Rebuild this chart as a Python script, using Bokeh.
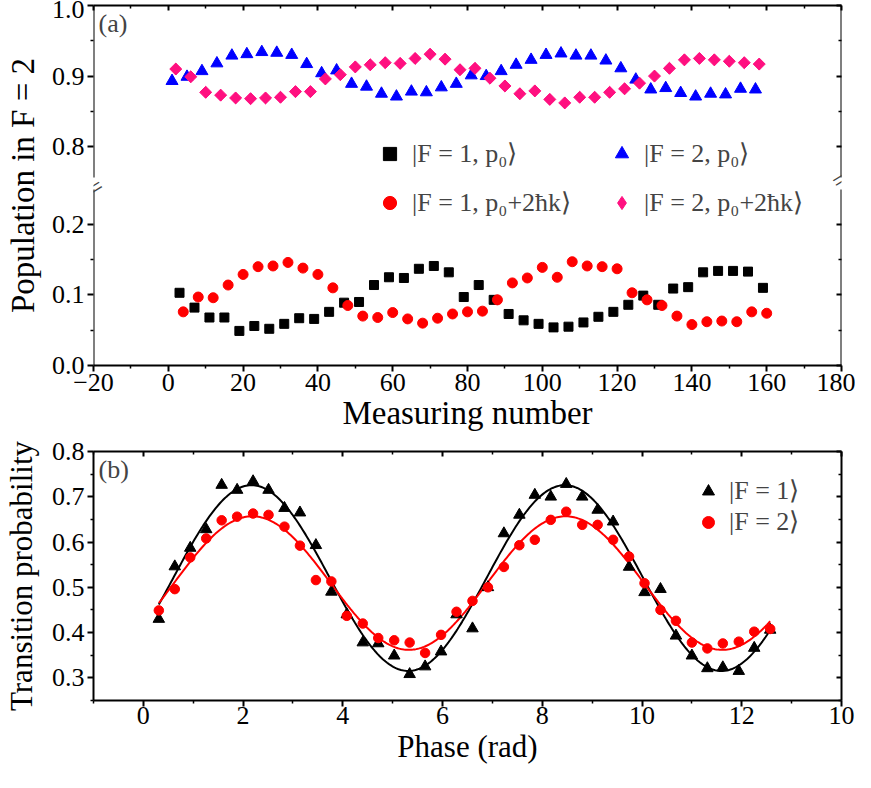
import numpy as np
from bokeh.plotting import figure
from bokeh.layouts import column
from bokeh.models import LinearAxis, FixedTicker, Legend, LegendItem, Label, Range1d
from bokeh.embed import file_html
from bokeh.resources import INLINE

FONT = "Liberation Serif"

# ---------------- Panel (a) data ----------------
n_F2_p0 = [1, 5, 9, 13, 17, 21, 25, 29, 33, 37, 41, 45, 49, 53, 57, 61, 65, 69, 73, 77,
           81, 85, 89, 93, 97, 101, 105, 109, 113, 117, 121, 125, 129, 133, 137, 141, 145, 149, 153, 157]
pop_F2_p0 = [0.893, 0.899, 0.907, 0.918, 0.929, 0.931, 0.934, 0.933, 0.930, 0.917,
             0.904, 0.908, 0.889, 0.885, 0.875, 0.871, 0.878, 0.877, 0.884, 0.889,
             0.901, 0.900, 0.907, 0.916, 0.923, 0.930, 0.932, 0.929, 0.929, 0.922,
             0.911, 0.895, 0.881, 0.883, 0.876, 0.871, 0.875, 0.874, 0.882, 0.881]

n_F2_p2hk = [2, 6, 10, 14, 18, 22, 26, 30, 34, 38, 42, 46, 50, 54, 58, 62, 66, 70, 74, 78,
             82, 86, 90, 94, 98, 102, 106, 110, 114, 118, 122, 126, 130, 134, 138, 142, 146, 150, 154, 158]
pop_F2_p2hk = [0.910, 0.899, 0.877, 0.873, 0.869, 0.868, 0.869, 0.870, 0.878, 0.878,
               0.896, 0.902, 0.913, 0.916, 0.919, 0.918, 0.925, 0.931, 0.924, 0.909,
               0.911, 0.897, 0.886, 0.875, 0.879, 0.867, 0.862, 0.870, 0.870, 0.877,
               0.882, 0.890, 0.900, 0.911, 0.923, 0.925, 0.923, 0.921, 0.919, 0.917]

n_F1_p0 = [3, 7, 11, 15, 19, 23, 27, 31, 35, 39, 43, 47, 51, 55, 59, 63, 67, 71, 75, 79,
           83, 87, 91, 95, 99, 103, 107, 111, 115, 119, 123, 127, 131, 135, 139, 143, 147, 151, 155, 159]
pop_F1_p0 = [0.103, 0.082, 0.068, 0.068, 0.049, 0.056, 0.052, 0.059, 0.067, 0.066,
             0.076, 0.089, 0.090, 0.114, 0.125, 0.124, 0.137, 0.141, 0.132, 0.097,
             0.114, 0.093, 0.073, 0.064, 0.059, 0.054, 0.055, 0.061, 0.069, 0.076,
             0.086, 0.099, 0.086, 0.109, 0.111, 0.132, 0.134, 0.134, 0.133, 0.110]

n_F1_p2hk = [4, 8, 12, 16, 20, 24, 28, 32, 36, 40, 44, 48, 52, 56, 60, 64, 68, 72, 76, 80,
             84, 88, 92, 96, 100, 104, 108, 112, 116, 120, 124, 128, 132, 136, 140, 144, 148, 152, 156, 160]
pop_F1_p2hk = [0.076, 0.097, 0.096, 0.114, 0.129, 0.140, 0.141, 0.146, 0.138, 0.129,
               0.110, 0.085, 0.070, 0.068, 0.075, 0.066, 0.060, 0.067, 0.073, 0.076,
               0.077, 0.093, 0.117, 0.124, 0.139, 0.125, 0.147, 0.141, 0.140, 0.137,
               0.103, 0.093, 0.085, 0.070, 0.058, 0.062, 0.063, 0.062, 0.076, 0.074]

a_xticks = [-20, 0, 20, 40, 60, 80, 100, 120, 140, 160, 180]
a_xminor = [-10, 10, 30, 50, 70, 90, 110, 130, 150, 170]
a_lower_ticks = [0.0, 0.1, 0.2]
a_lower_labels = ["0.0", "0.1", "0.2"]
a_upper_ticks = [0.8, 0.9, 1.0]
a_upper_labels = ["0.8", "0.9", "1.0"]

# ---------------- Panel (b) data ----------------
phase = [0.31, 0.63, 0.94, 1.26, 1.57, 1.88, 2.20, 2.51, 2.83, 3.14,
         3.46, 3.77, 4.08, 4.40, 4.71, 5.03, 5.34, 5.65, 5.97, 6.28,
         6.60, 6.91, 7.23, 7.54, 7.85, 8.17, 8.48, 8.80, 9.11, 9.42,
         9.74, 10.05, 10.37, 10.68, 11.00, 11.31, 11.62, 11.94, 12.25, 12.57]
prob_F1 = [0.430, 0.546, 0.587, 0.628, 0.726, 0.715, 0.734, 0.715, 0.675, 0.665,
           0.593, 0.490, 0.440, 0.378, 0.376, 0.349, 0.308, 0.325, 0.358, 0.440,
           0.409, 0.500, 0.619, 0.660, 0.704, 0.700, 0.728, 0.700, 0.671, 0.645,
           0.545, 0.489, 0.496, 0.393, 0.349, 0.321, 0.323, 0.315, 0.366, 0.406]
prob_F2 = [0.449, 0.496, 0.566, 0.608, 0.648, 0.656, 0.663, 0.660, 0.634, 0.592,
           0.516, 0.513, 0.437, 0.420, 0.388, 0.383, 0.378, 0.355, 0.395, 0.446,
           0.470, 0.500, 0.545, 0.593, 0.605, 0.649, 0.667, 0.638, 0.638, 0.605,
           0.568, 0.509, 0.450, 0.426, 0.378, 0.365, 0.376, 0.380, 0.402, 0.408]
b_xticks = [0, 2, 4, 6, 8, 10, 12, 14]
b_xlabels = ["0", "2", "4", "6", "8", "10", "12", "10"]
b_yticks = [0.3, 0.4, 0.5, 0.6, 0.7, 0.8]

BLACK = "#000000"
RED = "#FF0000"
BLUE = "#0000FF"
PINK = "#FF1080"

# broken axis: the upper block (0.75-1.0) is drawn shifted down by SHIFT
SHIFT = 0.49
TOP = 1.0 - SHIFT
BRK_LO, BRK_HI = 0.249, 0.266
BRK_Y = 0.5 * (BRK_LO + BRK_HI)
TICK_SIZE = "26px"


def style_axis(ax, title_size="33px"):
    ax.axis_line_width = 2
    ax.axis_line_color = "black"
    ax.major_tick_line_width = 2
    ax.minor_tick_line_width = 1.5
    ax.major_tick_line_color = "black"
    ax.minor_tick_line_color = "black"
    ax.major_tick_out = 6
    ax.major_tick_in = 0
    ax.minor_tick_out = 3
    ax.minor_tick_in = 0
    ax.major_label_text_font = FONT
    ax.major_label_text_font_size = TICK_SIZE
    ax.major_label_text_color = "black"
    ax.major_label_standoff = 3
    ax.axis_label_text_font = FONT
    ax.axis_label_text_font_size = title_size
    ax.axis_label_text_font_style = "normal"
    ax.axis_label_text_color = "black"


def mirror_axis(ticker, line=True):
    ax = LinearAxis(ticker=ticker)
    ax.axis_line_width = 2
    ax.axis_line_color = "black" if line else None
    ax.major_tick_line_width = 2
    ax.minor_tick_line_width = 1.5
    ax.major_tick_out = 0
    ax.major_tick_in = 5
    ax.minor_tick_out = 0
    ax.minor_tick_in = 3
    ax.major_label_text_font_size = "1px"
    ax.major_label_text_color = None
    ax.major_label_standoff = 0
    return ax


def line_axis(loc, lo, hi):
    ax = LinearAxis(ticker=FixedTicker(ticks=[]), fixed_location=loc, bounds=(lo, hi))
    ax.axis_line_width = 2
    ax.axis_line_color = "black"
    ax.major_tick_line_color = None
    ax.minor_tick_line_color = None
    ax.major_label_text_font_size = "1px"
    ax.major_label_text_color = None
    return ax


def break_axis(loc):
    ax = LinearAxis(ticker=FixedTicker(ticks=[BRK_Y]), fixed_location=loc)
    ax.major_label_overrides = {BRK_Y: "="}
    ax.major_label_orientation = 0.55
    ax.major_label_text_font = FONT
    ax.major_label_text_font_size = "26px"
    ax.major_label_standoff = -8
    ax.axis_line_color = None
    ax.major_tick_line_color = None
    ax.minor_tick_line_color = None
    ax.major_tick_out = 0
    ax.major_tick_in = 0
    return ax


# ================= Panel (a) =================
pa = figure(width=855, height=440, x_range=Range1d(-20, 180), y_range=Range1d(0, TOP),
            output_backend="svg", toolbar_location=None,
            min_border_left=89, min_border_right=14, min_border_top=5, min_border_bottom=75)
pa.outline_line_color = None
pa.grid.visible = False
pa.background_fill_color = "white"
pa.border_fill_color = "white"

xt_a = FixedTicker(ticks=a_xticks, minor_ticks=a_xminor)
up_t = [v - SHIFT for v in a_upper_ticks]
yt_a = FixedTicker(ticks=a_lower_ticks + up_t,
                   minor_ticks=[0.05, 0.15] + [v - SHIFT for v in (0.85, 0.95)])
overrides_a = {}
for t, l in zip(a_lower_ticks, a_lower_labels):
    overrides_a[t] = l
for t, l in zip(up_t, a_upper_labels):
    overrides_a[t] = l

xa = pa.xaxis[0]
xa.ticker = xt_a
style_axis(xa, title_size="33px")
xa.major_label_standoff = 2
xa.axis_label = "Measuring number"
xa.axis_label_standoff = 1

ya = pa.yaxis[0]
ya.ticker = yt_a
ya.major_label_overrides = overrides_a
style_axis(ya, title_size="33px")
ya.axis_line_color = None
ya.axis_label = "Population in F = 2"
ya.axis_label_standoff = 8

pa.add_layout(mirror_axis(xt_a), "above")
pa.add_layout(mirror_axis(yt_a, line=False), "right")
# axis lines with a gap at the break, plus the break marks
pa.add_layout(line_axis(-20, 0, BRK_LO), "left")
pa.add_layout(line_axis(-20, BRK_HI, TOP), "left")
pa.add_layout(line_axis(180, 0, BRK_LO), "right")
pa.add_layout(line_axis(180, BRK_HI, TOP), "right")
pa.add_layout(break_axis(-20), "left")
pa.add_layout(break_axis(180), "right")

y_F2_p0 = np.array(pop_F2_p0) - SHIFT
y_F2_p2hk = np.array(pop_F2_p2hk) - SHIFT
# diamond proxy (hidden beneath the rotated squares) used for the legend glyph
r_dia_leg = pa.scatter(n_F2_p2hk, y_F2_p2hk, marker="diamond", size=11, color=PINK)
r_sq = pa.scatter(n_F1_p0, pop_F1_p0, marker="square", size=9, color=BLACK)
r_tri = pa.scatter(n_F2_p0, y_F2_p0, marker="triangle", size=12, color=BLUE)
r_cir = pa.scatter(n_F1_p2hk, pop_F1_p2hk, marker="circle", size=10, color=RED)
r_dia = pa.scatter(n_F2_p2hk, y_F2_p2hk, marker="square", angle=np.pi / 4,
                   size=8.5, color=PINK)


def legend_a(items, loc):
    lg = Legend(items=items, orientation="horizontal", location=loc,
                label_text_font=FONT, label_text_font_size="26px",
                glyph_width=33, glyph_height=33, label_standoff=6,
                spacing=8, label_width=185, padding=0, margin=0,
                border_line_color=None, background_fill_alpha=0)
    return lg


pa.add_layout(legend_a([LegendItem(label="|F = 1, p₀⟩", renderers=[r_sq]),
                        LegendItem(label="|F = 2, p₀⟩", renderers=[r_tri])], (280, 195)))
pa.add_layout(legend_a([LegendItem(label="|F = 1, p₀+2ħk⟩", renderers=[r_cir]),
                        LegendItem(label="|F = 2, p₀+2ħk⟩", renderers=[r_dia_leg])], (280, 146)))

pa.add_layout(Label(x=-20, y=TOP, x_offset=5, y_offset=-3, text="(a)",
                    text_font=FONT, text_font_size="26px", text_baseline="top", text_align="left"))

# ================= Panel (b) =================
pb = figure(width=855, height=332, x_range=Range1d(-1, 14), y_range=Range1d(0.25, 0.8),
            output_backend="svg", toolbar_location=None,
            min_border_left=89, min_border_right=14, min_border_top=11, min_border_bottom=72)
pb.outline_line_color = None
pb.grid.visible = False

xt_b = FixedTicker(ticks=b_xticks, minor_ticks=[-1, 1, 3, 5, 7, 9, 11, 13])
yt_b = FixedTicker(ticks=b_yticks, minor_ticks=[0.25, 0.35, 0.45, 0.55, 0.65, 0.75])

xb_ax = pb.xaxis[0]
xb_ax.ticker = xt_b
xb_ax.major_label_overrides = {t: l for t, l in zip(b_xticks, b_xlabels)}
style_axis(xb_ax, title_size="31px")
xb_ax.major_label_standoff = 0
xb_ax.axis_label = "Phase (rad)"
xb_ax.axis_label_standoff = 2

yb_ax = pb.yaxis[0]
yb_ax.ticker = yt_b
style_axis(yb_ax, title_size="31px")
yb_ax.axis_label = "Transition probability"
yb_ax.axis_label_standoff = 10

pb.add_layout(mirror_axis(xt_b), "above")
pb.add_layout(mirror_axis(yt_b), "right")

# sinusoidal least-squares fits of the measured points
ph = np.array(phase)
xs = np.linspace(ph[0], ph[-1], 400)
A = np.column_stack([np.ones_like(ph), np.sin(ph), np.cos(ph)])
As = np.column_stack([np.ones_like(xs), np.sin(xs), np.cos(xs)])
c1, *_ = np.linalg.lstsq(A, np.array(prob_F1), rcond=None)
c2, *_ = np.linalg.lstsq(A, np.array(prob_F2), rcond=None)
pb.line(xs, As @ c1, line_color=BLACK, line_width=2)
pb.line(xs, As @ c2, line_color=RED, line_width=2)

rb1 = pb.scatter(phase, prob_F1, marker="triangle", size=11.5, color=BLACK)
rb2 = pb.scatter(phase, prob_F2, marker="circle", size=9.5, color=RED)

pb.add_layout(Legend(items=[LegendItem(label="|F = 1⟩", renderers=[rb1]),
                            LegendItem(label="|F = 2⟩", renderers=[rb2])],
                     location=(600, 163), orientation="vertical",
                     label_text_font=FONT, label_text_font_size="26px",
                     glyph_width=30, glyph_height=30, label_standoff=6, spacing=0,
                     padding=0, margin=0, border_line_color=None, background_fill_alpha=0))

pb.add_layout(Label(x=-1, y=0.8, x_offset=5, y_offset=-3, text="(b)",
                    text_font=FONT, text_font_size="26px", text_baseline="top", text_align="left"))

layout = column(pa, pb, spacing=0)
open("out.html", "w").write(file_html(layout, INLINE))
